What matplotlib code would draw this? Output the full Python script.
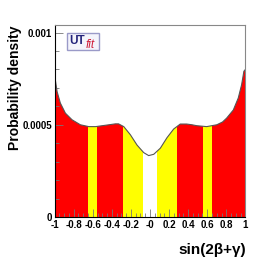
import matplotlib
matplotlib.use("Agg")
import matplotlib.pyplot as plt
from matplotlib.patches import Rectangle
from matplotlib.ticker import MultipleLocator, FixedLocator

# curve
x_vals = [-1.0, -0.974, -0.94, -0.887, -0.817, -0.73, -0.642, -0.57, -0.50, -0.43,
          -0.363, -0.33, -0.275, -0.206, -0.136, -0.066, -0.014, 0.039, 0.108,
          0.178, 0.248, 0.317, 0.384, 0.44, 0.49, 0.594, 0.70, 0.76, 0.803,
          0.873, 0.925, 0.96, 0.984, 1.0]
y_vals = [0.00077, 0.00068, 0.000618, 0.000563, 0.000527, 0.0005, 0.00049, 0.00049,
          0.000495, 0.0005, 0.000505, 0.000505, 0.00049, 0.000446, 0.00039, 0.000349,
          0.000333, 0.00034, 0.000373, 0.00043, 0.000477, 0.000504, 0.000504,
          0.0005, 0.000495, 0.00049, 0.0005, 0.000515, 0.000536, 0.00058, 0.000645,
          0.000717, 0.00079, 0.0008]

# coloured regions (68% red, 95% yellow)
bands = [(-1.0, -0.646, 'red'), (-0.646, -0.558, 'yellow'), (-0.558, -0.28, 'red'),
         (-0.28, -0.07, 'yellow'), (0.07, 0.28, 'yellow'), (0.28, 0.558, 'red'),
         (0.558, 0.646, 'yellow'), (0.646, 1.0, 'red')]
band_colors = {'red': '#ff0000', 'yellow': '#ffff00'}

x_ticks = [-1, -0.8, -0.6, -0.4, -0.2, 0, 0.2, 0.4, 0.6, 0.8, 1]
x_ticklabels = ['-1', '-0.8', '-0.6', '-0.4', '-0.2', '-0', '0.2', '0.4', '0.6', '0.8', '1']
y_ticks = [0, 0.0005, 0.001]
y_ticklabels = ['0', '0.0005', '0.001']

plt.rcParams['font.family'] = ['Liberation Sans', 'DejaVu Sans']

fig = plt.figure(figsize=(2.73, 2.59), dpi=100)
ax = fig.add_axes([0.2, 0.162, 0.699, 0.741])

area = ax.fill_between(x_vals, 0, y_vals, facecolor='none', edgecolor='none')
clip = area.get_paths()[0]
for lo, hi, c in bands:
    span = ax.axvspan(lo, hi, color=band_colors[c], lw=0, zorder=1)
    span.set_clip_path(clip, ax.transData)
ax.plot(x_vals, y_vals, color='#555555', lw=0.8, zorder=3)

ax.set_xlim(-1, 1)
ax.set_ylim(0, 0.00104)
ax.xaxis.set_major_locator(FixedLocator(x_ticks))
ax.set_xticklabels(x_ticklabels)
ax.xaxis.set_minor_locator(MultipleLocator(0.05))
ax.yaxis.set_major_locator(FixedLocator(y_ticks))
ax.set_yticklabels(y_ticklabels)
ax.yaxis.set_minor_locator(MultipleLocator(0.0001))
ax.tick_params(which='both', direction='in', color='#777777', width=0.6,
               labelsize=7, top=False, right=False)
ax.tick_params(which='major', length=6, pad=2)
ax.tick_params(which='minor', length=3)
for lab in ax.get_xticklabels() + ax.get_yticklabels():
    lab.set_fontweight('bold')

for side in ['top', 'right']:
    ax.spines[side].set_color('#888888')
for side in ['left', 'bottom']:
    ax.spines[side].set_color('black')
for s in ax.spines.values():
    s.set_linewidth(0.8)
    s.set_zorder(4)

fig.text(0.055, 0.66, 'Probability density', rotation=90, ha='center', va='center',
         fontsize=10, fontweight='bold')
fig.text(0.9, 0.035, 'sin(2\u03b2+\u03b3)', ha='right', va='center',
         fontsize=11, fontweight='bold')

# UTfit logo
ax.add_patch(Rectangle((0.064, 0.87), 0.169, 0.087, transform=ax.transAxes,
                       fc='#f4f4fb', ec='#9a9ac8', lw=1.0, zorder=6))
ax.text(0.076, 0.917, 'UT', transform=ax.transAxes, fontsize=8.5, fontweight='bold',
        color='#23237a', ha='left', va='center', zorder=7)
ax.text(0.163, 0.899, 'fit', transform=ax.transAxes, fontsize=8.5, style='italic',
        color='#d0203a', ha='left', va='center', zorder=7)

fig.savefig('out.png', dpi=100)
